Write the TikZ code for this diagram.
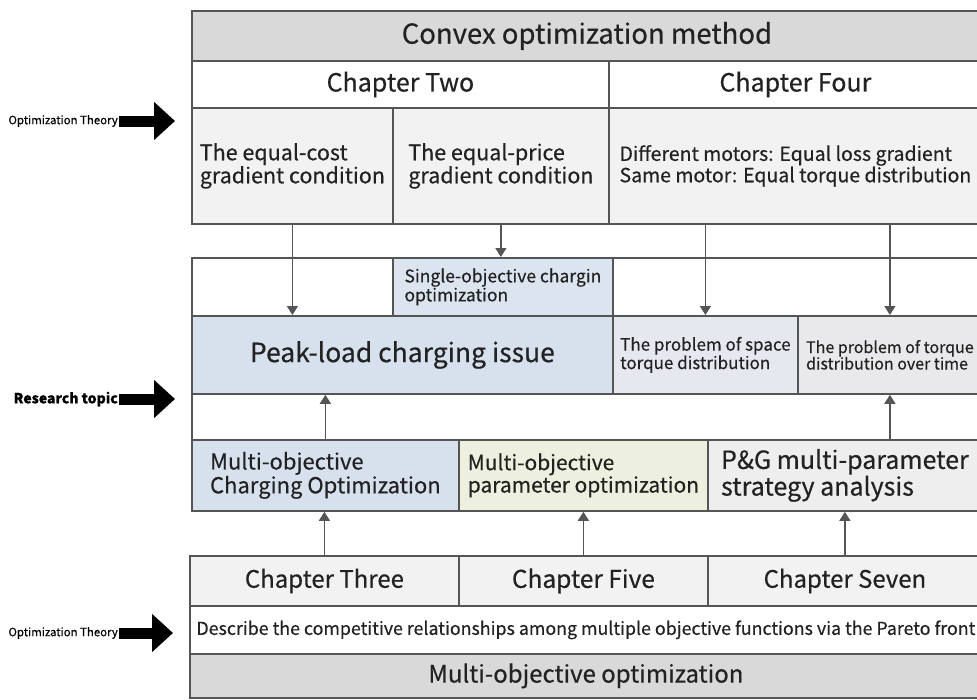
\documentclass[tikz,border=0pt]{standalone}
\usepackage{fontspec}
\setmainfont{Noto Sans CJK SC}[FakeBold=0.4]
\usetikzlibrary{arrows.meta, positioning}
\definecolor{lineGray}{HTML}{555555}
\definecolor{textDark}{HTML}{222222}
\definecolor{fillHead}{HTML}{D9D9D9}
\definecolor{fillPale}{HTML}{F2F2F2}
\definecolor{fillBlue}{HTML}{D7E1EE}
\definecolor{fillSingle}{HTML}{DCE5EF}
\definecolor{fillLilac}{HTML}{E6E8F0}
\definecolor{fillMist}{HTML}{E9E9EC}
\definecolor{fillGreen}{HTML}{EEF0DF}
\definecolor{fillStone}{HTML}{EEEEEE}
\newcommand{\fs}[2]{\fontsize{#1}{#2}\selectfont}

\begin{document}
\begin{tikzpicture}[x=1pt, y=-1pt, cell/.style={draw=lineGray, line width=1.8pt, anchor=north west, inner sep=0pt, align=left, text=textDark}, flow/.style={draw=lineGray, line width=1.4pt, -{Triangle[width=11pt,length=9pt]}}, bigArrow/.style={line width=11pt, -{Triangle[width=37pt,length=21pt]}, shorten >=16pt}, side/.style={anchor=east, inner sep=1pt}]
\useasboundingbox (0,0) rectangle (977,699);
\node[cell, fill=fillHead, minimum width=790, minimum height=50, font=\fs{27.5}{28}] (convex) at (191,10) {Convex optimization method};
\node[cell, fill=white, minimum width=417, minimum height=47, font=\fs{25}{25}] (chTwo) at (191,60) {Chapter Two};
\node[cell, fill=white, minimum width=373, minimum height=47, font=\fs{25}{25}] (chFour) at (608,60) {Chapter Four};
\node[cell, fill=fillPale, minimum width=201, minimum height=116, font=\fs{21.5}{17}] (costCond) at (191,107) {The equal-cost\\gradient condition};
\node[cell, fill=fillPale, minimum width=216, minimum height=116, font=\fs{21.5}{17}] (priceCond) at (392,107) {The equal-price\\gradient condition};
\node[cell, fill=fillPale, minimum width=373, minimum height=116, font=\fs{19.5}{18.5}] (motorCond) at (608,107) {Different motors: Equal loss gradient\\Same motor: Equal torque distribution};
\node[cell, fill=white, minimum width=790, minimum height=253] (topic) at (191,257) {};
\node[cell, fill=fillSingle, minimum width=220, minimum height=58, font=\fs{17.5}{15}] (single) at (392,257) {Single-objective chargin\\optimization};
\node[cell, fill=fillBlue, minimum width=421, minimum height=78, font=\fs{26.5}{27}] (peak) at (191,315) {Peak-load charging issue};
\node[cell, fill=fillLilac, minimum width=185, minimum height=78, font=\fs{17}{16.5}] (space) at (612,315) {The problem of space\\torque distribution};
\node[cell, fill=fillMist, minimum width=184, minimum height=78, font=\fs{16}{16.5}] (time) at (797,315) {The problem of torque\\distribution over time};
\node[cell, fill=fillBlue, minimum width=267, minimum height=71, font=\fs{22}{21}] (mcharge) at (191,439) {Multi-objective\\Charging Optimization};
\node[cell, fill=fillGreen, minimum width=249, minimum height=71, font=\fs{21}{20}] (mparam) at (458,439) {Multi-objective\\parameter optimization};
\node[cell, fill=fillStone, minimum width=274, minimum height=71, font=\fs{25}{24}] (pg) at (707,439) {P\&G multi-parameter\\strategy analysis};
\node[cell, fill=fillPale, minimum width=269, minimum height=50, font=\fs{24}{24}] (chThree) at (189,555) {Chapter Three};
\node[cell, fill=fillPale, minimum width=249, minimum height=50, font=\fs{24.5}{24}] (chFive) at (458,555) {Chapter Five};
\node[cell, fill=fillPale, minimum width=274, minimum height=50, font=\fs{24}{24}] (chSeven) at (707,555) {Chapter Seven};
\node[cell, fill=white, minimum width=792, minimum height=48, font=\fs{17.8}{18}] (pareto) at (189,605) {Describe the competitive relationships among multiple objective functions via the Pareto front};
\node[cell, fill=fillHead, minimum width=792, minimum height=44, font=\fs{24}{24}] (multiObj) at (189,653) {Multi-objective optimization};
\draw[flow] (costCond) -- (costCond |- peak.north);
\draw[flow] (priceCond) -- (priceCond |- single.north);
\draw[flow] (motorCond.south -| space) -- (space);
\draw[flow] (motorCond.south -| time) -- (time);
\draw[flow] (mcharge) -- (mcharge |- peak.south);
\draw[flow] (pg.north -| time) -- (time);
\draw[flow] (chThree) -- (chThree |- mcharge.south);
\draw[flow] (chFive) -- (chFive |- mparam.south);
\draw[flow] (chSeven) -- (chSeven |- pg.south);
\node[side, font=\fs{11.4}{12}] (theoryTop) at (119,121) {Optimization Theory};
\node[side, font=\bfseries\fs{14}{14}] (research) at (119,399) {Research topic};
\node[side, font=\fs{11.4}{12}] (theoryLow) at (119,633) {Optimization Theory};
\draw[bigArrow] (theoryTop.east) -- (theoryTop -| costCond.west);
\draw[bigArrow] (research.east) -- (research -| topic.west);
\draw[bigArrow] (theoryLow.east) -- (theoryLow -| pareto.west);
\end{tikzpicture}
\end{document}
